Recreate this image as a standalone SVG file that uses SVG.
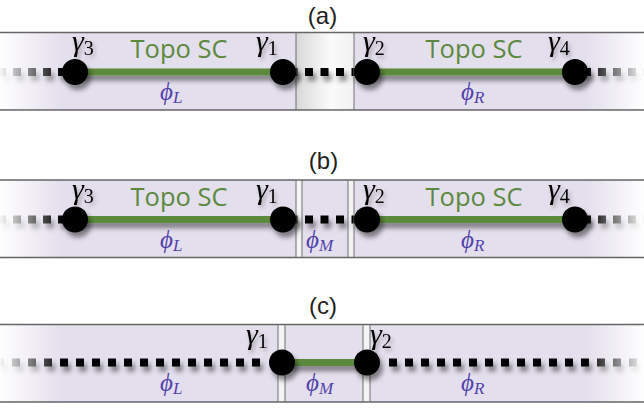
<svg xmlns="http://www.w3.org/2000/svg" width="644" height="412" viewBox="0 0 644 412">
<defs>
<style>
.bg{fill:#e4dfed}
.gap{fill:#f4f4f4}
.edge{stroke:#666;stroke-width:1.3;fill:none}
.div{stroke:#6e6e6e;stroke-width:1;fill:none}
.dash{stroke:#000;stroke-width:8;fill:none;stroke-dasharray:8 7}
.dashm{stroke:#000;stroke-width:8;fill:none;stroke-dasharray:8 7.5}
.dashc{stroke:#000;stroke-width:8;fill:none;stroke-dasharray:8 8}
.sc{stroke:#5b8a3d;stroke-width:7;fill:none}
.dot{fill:#000}
.lbl{font-family:"Liberation Sans","Open Sans",sans-serif;font-size:24px;fill:#231f20;text-anchor:middle}
.topo{font-family:"Open Sans","Liberation Sans",sans-serif;font-size:25.5px;fill:#5b8a3d;text-anchor:middle}
.g{font-family:"Liberation Serif","DejaVu Serif",serif;font-style:italic;font-size:30px;fill:#000}
.gs{font-style:normal;font-size:20px}
.phi{font-family:"Liberation Serif","DejaVu Serif",serif;font-style:italic;font-size:25px;fill:#5042ab}
.ps{font-size:17px}
</style>
<linearGradient id="fadeL" gradientUnits="userSpaceOnUse" x1="0" y1="0" x2="62" y2="0">
<stop offset="0" stop-color="#fff" stop-opacity="0.97"/><stop offset="1" stop-color="#fff" stop-opacity="0"/>
</linearGradient>
<linearGradient id="fadeR" gradientUnits="userSpaceOnUse" x1="586" y1="0" x2="644" y2="0">
<stop offset="0" stop-color="#fff" stop-opacity="0"/><stop offset="1" stop-color="#fff" stop-opacity="0.97"/>
</linearGradient>
<linearGradient id="midA" x1="0" y1="0" x2="1" y2="0">
<stop offset="0" stop-color="#d8d8d8"/><stop offset="0.6" stop-color="#fbfbfb"/><stop offset="1" stop-color="#f1f1f1"/>
</linearGradient>
<filter id="sh" filterUnits="userSpaceOnUse" x="-20" y="0" width="690" height="412">
<feDropShadow dx="3" dy="5" stdDeviation="2.5" flood-color="#000" flood-opacity="0.45"/>
</filter>
<filter id="tsh" filterUnits="userSpaceOnUse" x="-20" y="0" width="690" height="412">
<feDropShadow dx="2" dy="3" stdDeviation="2" flood-color="#000" flood-opacity="0.3"/>
</filter>
</defs>

<!-- backgrounds -->
<g id="backgrounds">
<rect class="bg" x="0" y="32.5" width="296" height="77.5"/>
<rect fill="url(#midA)" x="296" y="32.5" width="58" height="77.5"/>
<rect class="bg" x="354" y="32.5" width="290" height="77.5"/>

<rect class="bg" x="0" y="180" width="296" height="77.5"/>
<rect class="gap" x="296" y="180" width="6" height="77.5"/>
<rect class="bg" x="302" y="180" width="46" height="77.5"/>
<rect class="gap" x="348" y="180" width="6" height="77.5"/>
<rect class="bg" x="354" y="180" width="290" height="77.5"/>

<rect class="bg" x="0" y="324.5" width="278" height="77.5"/>
<rect class="gap" x="278" y="324.5" width="7" height="77.5"/>
<rect class="bg" x="285" y="324.5" width="78" height="77.5"/>
<rect class="gap" x="363" y="324.5" width="7" height="77.5"/>
<rect class="bg" x="370" y="324.5" width="274" height="77.5"/>
</g>

<!-- connectors -->
<g id="connectors" filter="url(#sh)">
<path class="dash" d="M-2 72H70"/>
<path class="sc" d="M75 72H283"/>
<path class="dashm" d="M289.5 72H360"/>
<path class="sc" d="M367 72H575"/>
<path class="dash" d="M583 72H650"/>

<path class="dash" d="M-2 219.5H70"/>
<path class="sc" d="M75 219.5H283"/>
<path class="dashm" d="M289.5 219.5H360"/>
<path class="sc" d="M367 219.5H575"/>
<path class="dash" d="M583 219.5H650"/>

<path class="dashc" d="M-4 362.5H268"/>
<path class="sc" d="M282 362.5H367"/>
<path class="dashc" d="M389 362.5H650"/>
</g>

<!-- edge fades -->
<g id="fades">
<rect fill="url(#fadeL)" x="0" y="33" width="62" height="76.5"/>
<rect fill="url(#fadeR)" x="586" y="33" width="58" height="76.5"/>
<rect fill="url(#fadeL)" x="0" y="180.5" width="62" height="76.5"/>
<rect fill="url(#fadeR)" x="586" y="180.5" width="58" height="76.5"/>
<rect fill="url(#fadeL)" x="0" y="325" width="62" height="76.5"/>
<rect fill="url(#fadeR)" x="586" y="325" width="58" height="76.5"/>
</g>

<!-- strip borders -->
<g id="borders">
<path class="edge" d="M0 32.5H644M0 110H644"/>
<path class="div" d="M296 32.5V110M354 32.5V110"/>
<path class="edge" d="M0 180H644M0 257.5H644"/>
<path class="div" d="M296 180V257.5M302 180V257.5M348 180V257.5M354 180V257.5"/>
<path class="edge" d="M0 324.5H644M0 402H644"/>
<path class="div" d="M278 324.5V402M285 324.5V402M363 324.5V402M370 324.5V402"/>
</g>

<!-- panel labels -->
<g id="panel-labels">
<text class="lbl" x="322.5" y="24">(a)</text>
<text class="lbl" x="323.5" y="169">(b)</text>
<text class="lbl" x="323" y="314">(c)</text>
</g>

<!-- region labels -->
<g id="regions">
<text class="topo" x="179" y="58">Topo SC</text>
<text class="topo" x="474" y="58">Topo SC</text>
<text class="topo" x="179" y="206">Topo SC</text>
<text class="topo" x="474" y="206">Topo SC</text>
<text class="phi" x="160" y="100">ϕ<tspan class="ps" dy="3">L</tspan></text>
<text class="phi" x="461" y="100">ϕ<tspan class="ps" dy="3">R</tspan></text>
<text class="phi" x="160" y="247.5">ϕ<tspan class="ps" dy="3">L</tspan></text>
<text class="phi" x="306" y="247.5">ϕ<tspan class="ps" dy="3">M</tspan></text>
<text class="phi" x="461" y="247.5">ϕ<tspan class="ps" dy="3">R</tspan></text>
<text class="phi" x="160" y="390.5">ϕ<tspan class="ps" dy="3">L</tspan></text>
<text class="phi" x="306" y="390.5">ϕ<tspan class="ps" dy="3">M</tspan></text>
<text class="phi" x="461" y="390.5">ϕ<tspan class="ps" dy="3">R</tspan></text>
</g>

<!-- nodes -->
<g id="a-gamma3"><circle class="dot" cx="75" cy="72" r="13" filter="url(#sh)"/><text class="g" x="72" y="51" filter="url(#tsh)">γ<tspan class="gs" dy="4">3</tspan></text></g>
<g id="a-gamma1"><circle class="dot" cx="283" cy="72" r="13" filter="url(#sh)"/><text class="g" x="256" y="51" filter="url(#tsh)">γ<tspan class="gs" dy="4">1</tspan></text></g>
<g id="a-gamma2"><circle class="dot" cx="367" cy="72" r="13" filter="url(#sh)"/><text class="g" x="363" y="51" filter="url(#tsh)">γ<tspan class="gs" dy="4">2</tspan></text></g>
<g id="a-gamma4"><circle class="dot" cx="575" cy="72" r="13" filter="url(#sh)"/><text class="g" x="548" y="51" filter="url(#tsh)">γ<tspan class="gs" dy="4">4</tspan></text></g>

<g id="b-gamma3"><circle class="dot" cx="75" cy="219.5" r="13" filter="url(#sh)"/><text class="g" x="72" y="198.5" filter="url(#tsh)">γ<tspan class="gs" dy="4">3</tspan></text></g>
<g id="b-gamma1"><circle class="dot" cx="283" cy="219.5" r="13" filter="url(#sh)"/><text class="g" x="256" y="198.5" filter="url(#tsh)">γ<tspan class="gs" dy="4">1</tspan></text></g>
<g id="b-gamma2"><circle class="dot" cx="367" cy="219.5" r="13" filter="url(#sh)"/><text class="g" x="363" y="198.5" filter="url(#tsh)">γ<tspan class="gs" dy="4">2</tspan></text></g>
<g id="b-gamma4"><circle class="dot" cx="575" cy="219.5" r="13" filter="url(#sh)"/><text class="g" x="548" y="198.5" filter="url(#tsh)">γ<tspan class="gs" dy="4">4</tspan></text></g>

<g id="c-gamma1"><circle class="dot" cx="282" cy="362.5" r="13" filter="url(#sh)"/><text class="g" x="246" y="344" filter="url(#tsh)">γ<tspan class="gs" dy="4">1</tspan></text></g>
<g id="c-gamma2"><circle class="dot" cx="367" cy="362.5" r="13" filter="url(#sh)"/><text class="g" x="370" y="344" filter="url(#tsh)">γ<tspan class="gs" dy="4">2</tspan></text></g>
</svg>
